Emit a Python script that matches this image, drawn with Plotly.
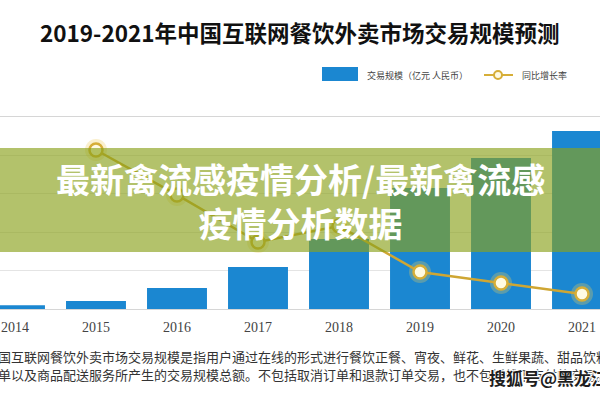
import plotly.graph_objects as go

# ---------------- data ----------------
years = ["2014", "2015", "2016", "2017", "2018", "2019", "2020", "2021"]
scale_values = [190, 420, 1090, 2190, 3650, 6300, 7870, 9270]          # 交易规模（亿元）
growth_years = ["2015", "2016", "2017", "2018", "2019", "2020", "2021"]
growth_rates = [165.6, 118.8, 69.8, 86.5, 38.5, 27.1, 15.6]              # 同比增长率（%）

title_text = "2019-2021年中国互联网餐饮外卖市场交易规模预测"
legend_bar = "交易规模（亿元 人民币）"
legend_line = "同比增长率"
banner_line1 = "最新禽流感疫情分析/最新禽流感"
banner_line2 = "疫情分析数据"
note_line1 = "中国互联网餐饮外卖市场交易规模是指用户通过在线的形式进行餐饮正餐、宵夜、鲜花、生鲜果蔬、甜品饮料等商品的"
note_line2 = "订单以及商品配送服务所产生的交易规模总额。不包括取消订单和退款订单交易，也不包括线下支付的交易。"
watermark = "搜狐号@黑龙江"

# ---------------- layout helpers ----------------
W, H = 600, 400
T, B = 117, 91
PH = H - T - B


def px(x):
    return x / W


def py(y):
    return (H - B - y) / PH


CJK = "Noto Sans CJK SC"
BAR_COLOR = "#1b87d1"
GOLD = "#d6ae38"

fig = go.Figure()

fig.add_trace(go.Bar(
    x=years, y=scale_values, width=0.74,
    marker=dict(color=BAR_COLOR, line=dict(width=0)),
    name=legend_bar, yaxis="y",
))

# soft glow behind markers
fig.add_trace(go.Scatter(
    x=growth_years, y=growth_rates, mode="markers", yaxis="y2",
    marker=dict(size=22, color="rgba(240,205,90,0.30)", line=dict(width=0)),
    hoverinfo="skip",
))

fig.add_trace(go.Scatter(
    x=growth_years, y=growth_rates, mode="lines+markers", yaxis="y2",
    name=legend_line,
    line=dict(color="#cfa633", width=2.5),
    marker=dict(size=13, color="#fffbe3", line=dict(color=GOLD, width=2.5)),
))

shapes = [
    # green banner band
    dict(type="rect", xref="paper", yref="paper", x0=0, x1=1,
         y0=py(252), y1=py(148), layer="above",
         fillcolor="rgba(138,161,28,0.65)", line=dict(width=0)),
    # legend swatch
    dict(type="rect", xref="paper", yref="paper", x0=px(322), x1=px(358),
         y0=py(81), y1=py(67), fillcolor=BAR_COLOR, line=dict(width=0)),
    # legend line symbol
    dict(type="line", xref="paper", yref="paper", x0=px(484), x1=px(513),
         y0=py(75), y1=py(75), line=dict(color=GOLD, width=2)),
    dict(type="circle", xref="paper", yref="paper", x0=px(494), x1=px(502),
         y0=py(79), y1=py(71), fillcolor="#fffbe3", line=dict(color=GOLD, width=2)),
]

annotations = [
    dict(text="<b>" + title_text + "</b>", x=px(300), y=py(32), xref="paper", yref="paper",
         xanchor="center", yanchor="middle", showarrow=False,
         font=dict(family=CJK, size=22.5, color="#111111")),
    dict(text=legend_bar, x=px(365), y=py(75), xref="paper", yref="paper",
         xanchor="left", yanchor="middle", showarrow=False,
         font=dict(family=CJK, size=9, color="#444444")),
    dict(text=legend_line, x=px(520), y=py(75), xref="paper", yref="paper",
         xanchor="left", yanchor="middle", showarrow=False,
         font=dict(family=CJK, size=9, color="#444444")),
    dict(text="<b>" + banner_line1 + "</b><br><b>" + banner_line2 + "</b>",
         x=px(300), y=py(200), xref="paper", yref="paper",
         xanchor="center", yanchor="middle", align="center", showarrow=False,
         font=dict(family=CJK, size=34, color="#ffffff")),
    dict(text=note_line1, x=px(-17), y=py(356), xref="paper", yref="paper",
         xanchor="left", yanchor="middle", showarrow=False,
         font=dict(family=CJK, size=13, color="#333333")),
    dict(text=note_line2, x=px(-17), y=py(374), xref="paper", yref="paper",
         xanchor="left", yanchor="middle", showarrow=False,
         font=dict(family=CJK, size=13, color="#333333")),
    dict(text="<b>" + watermark + "</b>", x=px(487), y=py(377), xref="paper", yref="paper",
         xanchor="left", yanchor="middle", showarrow=False,
         font=dict(family=CJK, size=17, color="#1e1e1e",
                   shadow="1px 1px 1px #ffffff, -1px -1px 1px #ffffff, 1px -1px 1px #ffffff, -1px 1px 1px #ffffff")),
]

fig.update_layout(
    width=W, height=H,
    margin=dict(l=0, r=0, t=T, b=B, pad=0),
    paper_bgcolor="#ffffff", plot_bgcolor="#ffffff",
    showlegend=False,
    bargap=0.26,
    xaxis=dict(
        type="category", range=[-0.185, 7.222],
        showline=True, linecolor="#d6d6d6", linewidth=1, mirror=True,
        showgrid=False, ticks="", ticklabelstandoff=5,
        tickfont=dict(family="Liberation Serif", size=14, color="#444444"),
    ),
    yaxis=dict(
        range=[0, 10000], dtick=2000, showgrid=True, gridcolor="#e4e4e4",
        showticklabels=False, zeroline=False, showline=False,
    ),
    yaxis2=dict(
        range=[0, 200], overlaying="y", side="right", showgrid=False,
        showticklabels=False, zeroline=False, showline=False,
    ),
    shapes=shapes,
    annotations=annotations,
)

fig.write_html("out.html")
